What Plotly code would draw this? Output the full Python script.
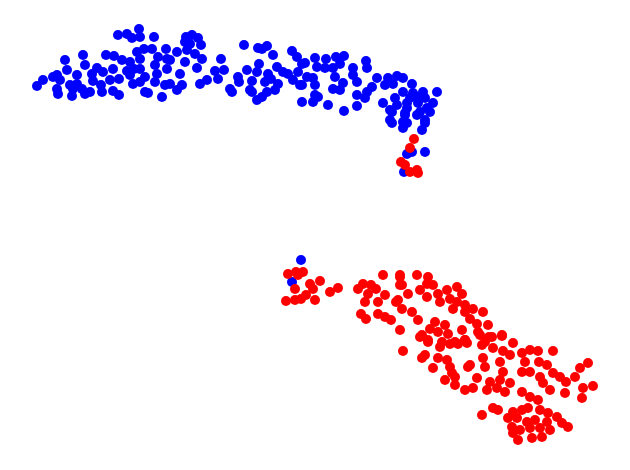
import plotly.graph_objects as go

# Embedding coordinates
blue_pts = [
    (118,35),(127,34),(139,29),(140,37),(132,38),(154,37),(166,49),(83,55),(65,60),(106,55),
    (114,56),(137,52),(144,49),(152,49),(85,65),(97,68),(122,60),(130,62),(140,59),(158,57),
    (167,59),(67,70),(57,75),(53,77),(43,80),(37,86),(60,80),(77,75),(92,74),(103,72),
    (113,69),(127,71),(134,69),(140,69),(155,65),(167,69),(157,74),(145,77),(130,75),(119,79),
    (110,80),(93,81),(77,84),(70,85),(57,89),(58,94),(73,89),(82,89),(85,94),(90,92),
    (101,85),(102,92),(113,91),(119,95),(133,84),(140,82),(155,82),(165,85),(145,92),(148,93),
    (162,97),(72,96),
    (186,37),(192,35),(198,38),(185,42),(190,44),(201,45),(244,45),(258,48),(267,46),(262,49),
    (177,52),(187,50),(195,54),(202,59),(221,59),(273,55),(292,51),(297,57),(170,60),(185,62),
    (197,68),(215,71),(224,70),(247,70),(259,64),(257,72),(277,67),(268,74),(283,72),(302,64),
    (288,74),(298,72),(180,74),(218,79),(238,77),(252,81),(265,82),(271,79),(278,84),(293,80),
    (300,85),(207,80),(200,84),(170,84),(182,85),(177,90),(230,89),(239,82),(250,90),(267,92),
    (275,90),(232,92),(252,92),(262,97),(257,100),(302,102),
    (305,63),(315,58),(317,67),(326,59),(336,57),(344,56),(340,64),(325,68),(333,68),(366,61),
    (367,68),(353,68),(307,77),(313,78),(335,77),(353,75),(302,85),(315,85),(343,83),(357,82),
    (377,78),(388,78),(397,76),(403,78),(385,85),(393,84),(412,84),(372,87),(333,89),(340,90),
    (315,95),(318,97),(357,95),(367,92),(365,98),(403,92),(413,93),(423,92),(437,92),(395,98),
    (410,98),(418,97),(425,98),(313,102),(328,105),(357,106),(383,103),(397,105),(407,103),
    (418,103),(433,103),(344,111),(390,110),(407,108),(427,108),(390,120),(405,115),(417,115),
    (403,122),(425,120),
    (392,112),(405,113),(420,112),(430,112),(392,123),(407,123),(403,128),(425,123),(422,130),
    (412,152),(407,154),(425,152),(404,172),
    (301,260),(292,282),
]

red_pts = [
    (414,139),(410,148),(401,162),(405,165),(410,172),(417,170),(418,173),
    (288,274),(296,272),(303,272),(298,275),(310,284),(320,281),(313,289),(330,292),(338,288),
    (295,289),(286,301),(295,300),(301,299),(306,295),(315,300),(358,289),(363,284),(371,285),
    (376,289),(368,294),(385,295),(378,302),(365,302),(361,314),(366,319),(378,314),(385,317),
    (391,320),(396,302),(400,277),(383,275),(400,285),(400,330),
    (400,275),(417,275),(428,277),(433,285),(427,284),(402,285),(408,294),(420,290),(438,294),
    (447,290),(457,287),(427,297),(440,302),(450,299),(462,294),(398,300),(402,309),(412,312),
    (457,302),(465,305),(453,309),(465,312),(473,309),(483,312),(470,319),(418,320),(435,322),
    (445,325),(430,329),(422,335),(428,342),(438,332),(448,334),(462,330),(477,324),(488,325),
    (478,332),(492,337),(465,340),(442,342),(485,342),(502,335),(455,342),
    (403,351),(420,337),(428,340),(440,347),(450,344),(458,344),(467,343),(425,355),(422,358),
    (438,358),(447,360),(433,368),(450,367),(452,373),(455,377),(468,367),(465,390),
    (465,340),(480,335),(489,337),(502,336),(482,345),(493,348),(503,351),(513,343),(510,355),
    (522,353),(530,350),(538,351),(553,351),(483,358),(500,362),(525,362),(539,362),(470,365),
    (485,367),(503,372),(522,372),(530,372),(547,365),(553,373),(560,377),(566,382),(575,377),
    (580,368),(588,363),(477,378),(490,382),(500,380),(510,383),(540,377),(543,383),(550,390),
    (565,393),(583,388),(593,386),(582,398),(473,388),(487,390),(497,388),(505,392),(522,392),
    (530,397),(538,400),(482,415),(493,408),(498,410),(513,412),(522,410),(528,408),(540,410),
    (548,413),(508,418),(517,418),(527,422),(535,420),(547,422),(557,417),(562,423),(568,427),
    (512,427),(520,430),(530,428),(540,428),(550,430),(513,433),(518,440),(532,438),(542,437),
    (445,380),(455,385),
]

blue_x = [p[0] for p in blue_pts]
blue_y = [p[1] for p in blue_pts]
red_x = [p[0] for p in red_pts]
red_y = [p[1] for p in red_pts]

fig = go.Figure()
fig.add_trace(go.Scatter(x=blue_x, y=blue_y, mode="markers",
                         marker=dict(color="#0000ff", size=10, line=dict(width=0)),
                         showlegend=False, hoverinfo="skip"))
fig.add_trace(go.Scatter(x=red_x, y=red_y, mode="markers",
                         marker=dict(color="#ff0000", size=10, line=dict(width=0)),
                         showlegend=False, hoverinfo="skip"))

fig.update_layout(
    width=630, height=470,
    margin=dict(l=0, r=0, t=0, b=0),
    paper_bgcolor="white", plot_bgcolor="white",
    xaxis=dict(range=[8, 638], visible=False, fixedrange=True),
    yaxis=dict(range=[478, 8], visible=False, fixedrange=True),
)

fig.write_html("out.html")
